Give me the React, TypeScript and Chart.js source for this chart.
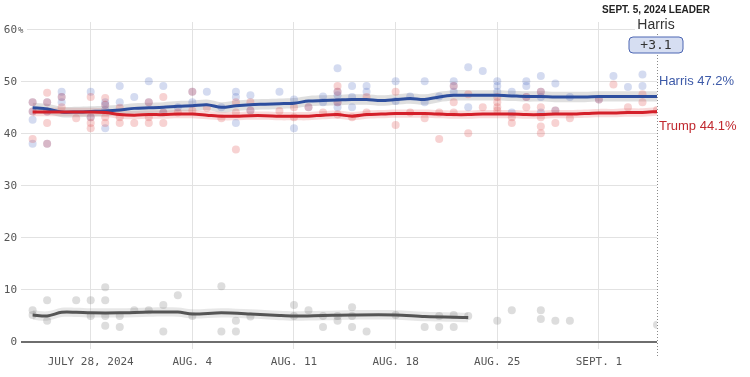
import { useEffect, useRef } from "react";
import { Chart, registerables } from "chart.js";

Chart.register(...registerables);

// Day 0 = July 28, 2024
const xTickDays = [0, 7, 14, 21, 28, 35];
const xTickLabels = ["JULY 28, 2024", "AUG. 4", "AUG. 11", "AUG. 18", "AUG. 25", "SEPT. 1"];
const yTickValues = [0, 10, 20, 30, 40, 50, 60];
const leaderDay = 39;
const leaderTitle = "SEPT. 5, 2024 LEADER";
const leaderName = "Harris";
const leaderMargin = "+3.1";
const harrisLabel = "Harris 47.2%";
const trumpLabel = "Trump 44.1%";
const harrisFinal = 47.2;
const trumpFinal = 44.1;

const harrisPolls: [number, number][] = [
  [-4, 46.1], [-4, 44.3], [-4, 42.7], [-4, 38.1],
  [-3, 46.1], [-3, 44.3], [-3, 38.1],
  [-2, 48.1], [-2, 47.1], [-2, 46.1],
  [0, 48.1], [0, 43.2],
  [1, 46.1], [1, 45.6], [1, 44.6], [1, 41.1],
  [2, 49.2], [2, 46.1],
  [3, 47.1],
  [4, 50.1], [4, 46.1],
  [5, 49.2], [5, 44.1],
  [6, 45.1],
  [7, 48.1], [7, 46.1],
  [8, 48.1],
  [9, 45.1],
  [10, 48.1], [10, 47.1], [10, 42.1],
  [11, 47.4], [11, 44.5],
  [13, 48.1],
  [14, 46.6], [14, 41.1],
  [15, 45.1],
  [16, 47.2], [16, 46.1],
  [17, 52.6], [17, 48.1], [17, 47.4], [17, 46.1], [17, 45.1],
  [18, 49.2], [18, 47.1], [18, 45.1],
  [19, 49.2], [19, 48.1],
  [21, 50.1], [21, 46.3],
  [22, 47.2],
  [23, 50.1], [23, 46.1],
  [24, 47.2],
  [25, 50.1], [25, 49.2], [25, 48.1],
  [26, 52.8], [26, 45.1],
  [27, 52.1],
  [28, 50.1], [28, 49.2], [28, 48.1],
  [29, 48.1], [29, 44.1],
  [30, 50.1], [30, 49.2], [30, 47.1],
  [31, 51.1], [31, 48.1], [31, 47.1], [31, 44.1],
  [32, 49.7], [32, 44.5],
  [33, 47.1],
  [35, 46.6],
  [36, 51.1],
  [37, 49.0],
  [38, 51.4], [38, 49.2],
];

const trumpPolls: [number, number][] = [
  [-4, 46.1], [-4, 44.3], [-4, 39.0],
  [-3, 47.9], [-3, 46.1], [-3, 44.3], [-3, 42.1], [-3, 38.1],
  [-2, 47.1], [-2, 45.1],
  [-1, 43.0],
  [0, 47.1], [0, 43.2], [0, 42.1], [0, 41.1],
  [1, 46.9], [1, 45.6], [1, 43.2], [1, 42.1],
  [2, 45.0], [2, 43.2], [2, 42.1],
  [3, 42.1],
  [4, 46.1], [4, 43.2], [4, 42.1],
  [5, 47.1], [5, 44.1], [5, 42.1],
  [6, 44.1],
  [7, 48.1], [7, 44.5],
  [8, 45.0],
  [9, 43.0],
  [10, 46.1], [10, 44.1], [10, 37.0],
  [11, 46.1], [11, 44.5],
  [13, 44.4],
  [14, 45.1], [14, 43.2],
  [15, 45.1],
  [16, 44.1],
  [17, 49.2], [17, 48.1], [17, 46.1], [17, 43.7],
  [18, 43.2],
  [19, 47.1], [19, 44.1],
  [21, 48.1], [21, 41.7],
  [22, 44.1],
  [23, 43.0],
  [24, 44.1], [24, 39.0],
  [25, 49.2], [25, 46.1], [25, 44.1],
  [26, 47.6], [26, 40.1],
  [27, 45.1],
  [28, 47.1], [28, 46.1], [28, 45.1], [28, 44.5],
  [29, 43.2], [29, 42.1],
  [30, 47.1], [30, 45.1],
  [31, 48.1], [31, 45.1], [31, 43.2], [31, 41.4], [31, 40.1],
  [32, 44.5], [32, 42.1],
  [33, 43.0],
  [35, 46.6],
  [36, 49.5],
  [37, 45.1],
  [38, 47.6], [38, 46.1],
  [39, 44.6],
];

const otherPolls: [number, number][] = [
  [-4, 6.1], [-4, 5.2],
  [-3, 8.0], [-3, 4.1],
  [-1, 8.0],
  [0, 8.0], [0, 5.0],
  [1, 10.5], [1, 8.0], [1, 5.0], [1, 3.1],
  [2, 5.0], [2, 2.9],
  [3, 6.1],
  [4, 6.1],
  [5, 7.1], [5, 2.0],
  [6, 9.0],
  [7, 5.0],
  [9, 10.7], [9, 2.0],
  [10, 4.1], [10, 2.0],
  [11, 4.9],
  [14, 7.1], [14, 5.0],
  [15, 6.1],
  [16, 5.0], [16, 2.9],
  [17, 5.0], [17, 4.1],
  [18, 6.7], [18, 5.0], [18, 2.9],
  [19, 2.0],
  [21, 5.2],
  [23, 2.9],
  [24, 5.0], [24, 2.9],
  [25, 5.2], [25, 2.9],
  [26, 5.0],
  [28, 4.1],
  [29, 6.1],
  [31, 6.1], [31, 4.4],
  [32, 4.1],
  [33, 4.1],
  [39, 3.3],
];

const harrisTrendDays = [-4, -3, -2, -1, 0, 1, 2, 3, 4, 5, 6, 7, 8, 9, 10, 11, 12, 13, 14, 15, 16, 17, 18, 19, 20, 21, 22, 23, 24, 25, 26, 27, 28, 29, 30, 31, 32, 33, 34, 35, 36, 37, 38, 39];
const harrisTrendValues = [45.0, 44.8, 44.2, 44.2, 44.3, 44.4, 44.6, 44.9, 45.0, 45.1, 45.3, 45.4, 45.6, 45.1, 45.4, 45.6, 45.7, 45.8, 45.9, 46.3, 46.4, 46.5, 46.6, 46.6, 46.4, 46.6, 46.8, 46.6, 47.1, 47.4, 47.4, 47.4, 47.4, 47.3, 47.2, 47.2, 47.1, 47.1, 47.1, 47.2, 47.2, 47.2, 47.2, 47.2];

const trumpTrendDays = [-4, -2, 0, 1, 2, 3, 4, 5, 6, 7, 8, 9, 10, 11, 12, 13, 14, 15, 16, 17, 18, 19, 20, 21, 22, 23, 24, 25, 26, 27, 28, 29, 30, 31, 32, 33, 34, 35, 36, 37, 38, 39];
const trumpTrendValues = [44.2, 44.2, 44.2, 44.1, 43.7, 43.6, 43.7, 43.7, 43.8, 43.8, 43.6, 43.4, 43.4, 43.5, 43.5, 43.4, 43.4, 43.4, 43.6, 43.7, 43.4, 43.7, 43.8, 43.9, 43.9, 43.9, 43.8, 43.7, 43.7, 43.8, 43.8, 43.8, 43.7, 43.7, 43.8, 43.8, 43.9, 44.0, 44.0, 44.1, 44.1, 44.3];

const otherTrendDays = [-4, -3, -2, -1, 0, 2, 4, 6, 7, 9, 11, 13, 14, 16, 18, 21, 23, 26];
const otherTrendValues = [5.2, 5.0, 5.7, 5.7, 5.6, 5.6, 5.75, 5.75, 5.4, 5.6, 5.4, 5.1, 5.0, 5.1, 5.2, 5.2, 4.9, 4.7];

// half-width of the shaded uncertainty bands
const harrisBand = 1.0;
const trumpBand = 0.8;
const otherBand = 0.9;

const monoFont = "'DejaVu Sans Mono', 'Liberation Mono', monospace";
const sansFont = "'Liberation Sans', Arial, sans-serif";

export default function App() {
  const ref = useRef<HTMLCanvasElement>(null);

  useEffect(() => {
    document.body.style.margin = "0";
    const canvas = ref.current;
    if (!canvas) return;

    const pts = (arr: [number, number][]) => arr.map(([x, y]) => ({ x, y }));
    const line = (days: number[], vals: number[], off = 0) =>
      days.map((d, i) => ({ x: d, y: vals[i] + off }));

    const bandSet = (days: number[], vals: number[], h: number, color: string) => [
      {
        type: "line" as const,
        data: line(days, vals, h),
        borderWidth: 0,
        pointRadius: 0,
        fill: false,
        tension: 0.3,
        order: 10,
      },
      {
        type: "line" as const,
        data: line(days, vals, -h),
        borderWidth: 0,
        pointRadius: 0,
        fill: "-1",
        backgroundColor: color,
        tension: 0.3,
        order: 10,
      },
    ];

    const scatterSet = (arr: [number, number][], color: string) => ({
      type: "scatter" as const,
      data: pts(arr),
      pointRadius: 4,
      pointBorderWidth: 0,
      pointBackgroundColor: color,
      showLine: false,
      order: 5,
    });

    const trendSet = (days: number[], vals: number[], color: string) => ({
      type: "line" as const,
      data: line(days, vals),
      borderColor: color,
      borderWidth: 3,
      pointRadius: 0,
      fill: false,
      tension: 0.3,
      order: 1,
    });

    const overlay = {
      id: "overlay",
      beforeDatasetsDraw(chart: any) {
        const ctx = chart.ctx;
        const xs = chart.scales.x;
        const xl = Math.round(xs.getPixelForValue(leaderDay)) + 0.5;
        ctx.save();
        ctx.strokeStyle = "#8a8a8a";
        ctx.lineWidth = 1;
        ctx.setLineDash([1, 2]);
        ctx.beginPath();
        ctx.moveTo(xl, 34);
        ctx.lineTo(xl, 358);
        ctx.stroke();
        ctx.restore();
      },
      afterDraw(chart: any) {
        const ctx = chart.ctx;
        const xs = chart.scales.x;
        const ys = chart.scales.y;
        const xl = xs.getPixelForValue(leaderDay);
        ctx.save();
        // "%" after top tick
        const y60 = ys.getPixelForValue(60);
        ctx.fillStyle = "#fff";
        ctx.fillRect(18, y60 - 4, 9, 8);
        ctx.fillStyle = "#555";
        ctx.font = `9px ${monoFont}`;
        ctx.textAlign = "left";
        ctx.textBaseline = "middle";
        ctx.fillText("%", 18, y60 + 1);

        // header
        ctx.textAlign = "center";
        ctx.fillStyle = "#222";
        ctx.font = `bold 10px ${sansFont}`;
        ctx.fillText(leaderTitle, xl - 1, 10);
        ctx.fillStyle = "#fff";
        ctx.fillRect(xl - 22, 17, 44, 16);
        ctx.fillStyle = "#333";
        ctx.font = `14px ${sansFont}`;
        ctx.fillText(leaderName, xl - 1, 25);

        // margin box
        const bx = xl - 28, by = 37, bw = 54, bh = 16, r = 4;
        ctx.beginPath();
        ctx.moveTo(bx + r, by);
        ctx.arcTo(bx + bw, by, bx + bw, by + bh, r);
        ctx.arcTo(bx + bw, by + bh, bx, by + bh, r);
        ctx.arcTo(bx, by + bh, bx, by, r);
        ctx.arcTo(bx, by, bx + bw, by, r);
        ctx.closePath();
        ctx.fillStyle = "#d6def2";
        ctx.fill();
        ctx.strokeStyle = "#4d66b3";
        ctx.lineWidth = 1;
        ctx.stroke();
        ctx.fillStyle = "#333";
        ctx.font = `13px ${monoFont}`;
        ctx.fillText(leaderMargin, xl - 1, by + bh / 2 + 1);

        // end labels
        ctx.textAlign = "left";
        ctx.font = `13px ${sansFont}`;
        ctx.fillStyle = "#3d5aa8";
        ctx.fillText(harrisLabel, xl + 2, ys.getPixelForValue(harrisFinal) - 15);
        ctx.fillStyle = "#c0282e";
        ctx.fillText(trumpLabel, xl + 2, ys.getPixelForValue(trumpFinal) + 14);
        ctx.restore();
      },
    };

    const chart = new Chart(canvas, {
      type: "line",
      data: {
        datasets: [
          ...bandSet(harrisTrendDays, harrisTrendValues, harrisBand, "rgba(150,150,150,0.3)"),
          ...bandSet(trumpTrendDays, trumpTrendValues, trumpBand, "rgba(230,110,110,0.25)"),
          ...bandSet(otherTrendDays, otherTrendValues, otherBand, "rgba(160,160,160,0.25)"),
          scatterSet(otherPolls, "rgba(120,120,120,0.25)"),
          scatterSet(trumpPolls, "rgba(225,75,75,0.25)"),
          scatterSet(harrisPolls, "rgba(70,100,190,0.23)"),
          trendSet(otherTrendDays, otherTrendValues, "#555555"),
          trendSet(trumpTrendDays, trumpTrendValues, "#d4202a"),
          trendSet(harrisTrendDays, harrisTrendValues, "#2d4e9e"),
        ] as any,
      },
      options: {
        animation: false,
        responsive: false,
        events: [],
        layout: { padding: { top: 22, right: 93, left: 0, bottom: 0 } },
        plugins: { legend: { display: false }, tooltip: { enabled: false } },
        scales: {
          x: {
            type: "linear",
            min: -4.8,
            max: 39,
            afterBuildTicks: (s: any) => {
              s.ticks = xTickDays.map((v) => ({ value: v }));
            },
            afterFit: (s: any) => {
              s.height = 35;
            },
            border: { display: false },
            grid: {
              color: "#e2e2e2",
              lineWidth: 1,
              drawTicks: true,
              tickLength: 7,
              tickColor: "#e2e2e2",
            },
            ticks: {
              autoSkip: false,
              maxRotation: 0,
              padding: 7,
              color: "#555",
              font: { family: monoFont, size: 11 },
              callback: (v: any) => {
                const i = xTickDays.indexOf(Number(v));
                return i >= 0 ? xTickLabels[i] : "";
              },
            },
          },
          y: {
            type: "linear",
            min: 0,
            max: 61.5,
            afterBuildTicks: (s: any) => {
              s.ticks = yTickValues.map((v) => ({ value: v }));
            },
            afterFit: (s: any) => {
              s.width = 21;
            },
            border: { display: false },
            grid: {
              drawTicks: false,
              color: (c: any) => (c.tick && c.tick.value === 0 ? "#6e6e6e" : "#e2e2e2"),
              lineWidth: (c: any) => (c.tick && c.tick.value === 0 ? 2 : 1),
            },
            ticks: {
              padding: 4,
              color: "#555",
              font: { family: monoFont, size: 11 },
              callback: (v: any) => String(v),
            },
          },
        },
      },
      plugins: [overlay],
    });

    return () => chart.destroy();
  }, []);

  return <canvas ref={ref} width={750} height={377} style={{ display: "block" }} />;
}
